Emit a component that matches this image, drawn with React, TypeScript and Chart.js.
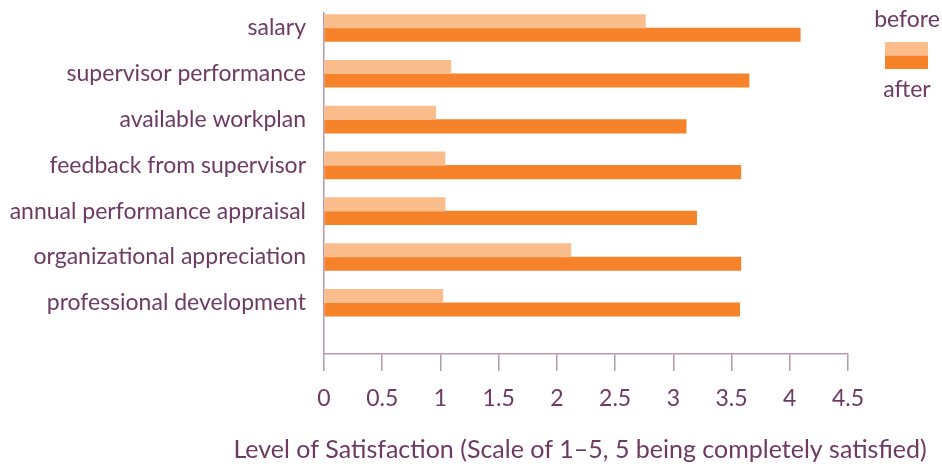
import React, { useEffect, useRef } from "react";
import { Chart, registerables } from "chart.js";

Chart.register(...registerables);

const categories = [
  "salary",
  "supervisor performance",
  "available workplan",
  "feedback from supervisor",
  "annual performance appraisal",
  "organizational appreciation",
  "professional development",
];
const beforeValues = [2.76, 1.09, 0.96, 1.04, 1.04, 2.12, 1.02];
const afterValues = [4.09, 3.65, 3.11, 3.58, 3.2, 3.58, 3.57];
const seriesNames = ["before", "after"];
const xTitle = "Level of Satisfaction (Scale of 1\u20135, 5 being completely satisfied)";

const TEXT = "#6e3a63";
const AXIS = "#b898b0";
const LIGHT = "#fbbd8b";
const DARK = "#f6822a";
const FONT = "Lato, 'Open Sans', sans-serif";

const legendPlugin = {
  id: "customLegend",
  afterDraw(chart: any) {
    const ctx = chart.ctx;
    const ds = chart.data.datasets;
    ctx.save();
    ctx.font = `23px ${FONT}`;
    ctx.fillStyle = TEXT;
    ctx.textAlign = "center";
    ctx.textBaseline = "middle";
    ctx.fillText(ds[0].label, 907, 20);
    ctx.fillStyle = ds[0].backgroundColor;
    ctx.fillRect(885, 42, 43, 13.5);
    ctx.fillStyle = ds[1].backgroundColor;
    ctx.fillRect(885, 55.5, 43, 13.5);
    ctx.fillStyle = TEXT;
    ctx.fillText(ds[1].label, 907, 90);
    // x axis title
    const area = chart.chartArea;
    ctx.font = `25px ${FONT}`;
    ctx.fillText(xTitle, (area.left + area.right) / 2 - 6, 450);
    ctx.restore();
  },
};

export default function App() {
  const ref = useRef<HTMLCanvasElement | null>(null);
  useEffect(() => {
    document.body.style.margin = "0";
    if (!ref.current) return;
    const chart = new Chart(ref.current, {
      type: "bar",
      data: {
        datasets: [
          {
            label: seriesNames[0],
            data: beforeValues.map((v, i) => ({ x: v, y: i })),
            backgroundColor: LIGHT,
            barThickness: 13.5,
          },
          {
            label: seriesNames[1],
            data: afterValues.map((v, i) => ({ x: v, y: i })),
            backgroundColor: DARK,
            barThickness: 13.5,
          },
        ],
      },
      options: {
        indexAxis: "y",
        animation: false,
        responsive: false,
        maintainAspectRatio: false,
        layout: { padding: { top: 13, right: 94, left: 0, bottom: 0 } },
        plugins: {
          legend: { display: false },
          tooltip: { enabled: false },
        },
        scales: {
          y: {
            type: "linear",
            reverse: true,
            offset: false,
            min: -0.327,
            max: 7.118,
            afterBuildTicks: (scale: any) => {
              scale.ticks = categories.map((_, i) => ({ value: i }));
            },
            afterFit: (scale: any) => {
              scale.width = 324;
              scale.paddingTop = 0;
              scale.paddingBottom = 0;
            },
            ticks: {
              callback: (v: any) => categories[v] ?? "",
              color: TEXT,
              font: { family: FONT, size: 23 },
              padding: 18,
              autoSkip: false,
            },
            grid: { display: false, drawTicks: false, offset: false },
            border: { display: true, color: AXIS, width: 1.5 },
          },
          x: {
            type: "linear",
            min: 0,
            max: 4.5,
            afterFit: (scale: any) => {
              scale.height = 110;
            },
            ticks: {
              stepSize: 0.5,
              color: TEXT,
              font: { family: FONT, size: 23 },
              padding: 14,
              maxRotation: 0,
              callback: (v: any) => String(v),
            },
            grid: {
              drawOnChartArea: false,
              drawTicks: true,
              tickLength: 17,
              color: AXIS,
              lineWidth: 1.5,
            },
            border: { display: true, color: AXIS, width: 1.5 },
            title: { display: false },
          },
        },
      },
      plugins: [legendPlugin],
    } as any);
    return () => chart.destroy();
  }, []);
  return (
    <div style={{ width: 942, height: 464 }}>
      <canvas ref={ref} width={942} height={464} style={{ display: "block" }} />
    </div>
  );
}
